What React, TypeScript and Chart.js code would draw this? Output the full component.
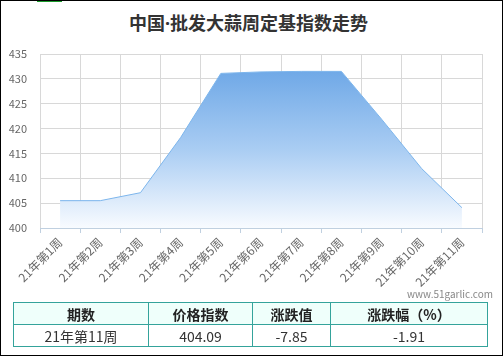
import React, { useEffect, useRef } from "react";
import { Chart, registerables } from "chart.js";

Chart.register(...registerables);

const title = "中国·批发大蒜周定基指数走势";
const weeks = [
  "21年第1周", "21年第2周", "21年第3周", "21年第4周", "21年第5周", "21年第6周",
  "21年第7周", "21年第8周", "21年第9周", "21年第10周", "21年第11周",
];
const indexValues = [405.5, 405.5, 407.1, 418.2, 431.1, 431.4, 431.5, 431.5, 421.9, 411.94, 404.09];
const yMin = 400;
const yMax = 435;
const yStep = 5;
const tableHeaders = ["期数", "价格指数", "涨跌值", "涨跌幅（%）"];
const tableRow = ["21年第11周", "404.09", "-7.85", "-1.91"];
const watermark = "www.51garlic.com";

const FONT = '"Noto Sans CJK SC", "Noto Sans", sans-serif';
const TITLE_FONT = '"Noto Sans", "Noto Sans CJK SC", sans-serif';

export default function App() {
  const ref = useRef<HTMLCanvasElement | null>(null);

  useEffect(() => {
    document.body.style.margin = "0";
    const canvas = ref.current;
    if (!canvas) return;
    const chart = new Chart(canvas, {
      type: "line",
      data: {
        labels: weeks,
        datasets: [
          {
            data: indexValues,
            borderColor: "#7cb5ec",
            borderWidth: 1,
            pointRadius: 0,
            tension: 0,
            fill: "start",
            backgroundColor: (ctx: any) => {
              const c = ctx.chart;
              const area = c.chartArea;
              if (!area) return "rgba(124,181,236,0.5)";
              const g = c.ctx.createLinearGradient(0, area.top + 18, 0, area.bottom);
              g.addColorStop(0, "rgba(112,169,231,1)");
              g.addColorStop(0.5, "rgba(170,205,243,1)");
              g.addColorStop(1, "rgba(248,251,255,1)");
              return g;
            },
          },
        ],
      },
      options: {
        animation: false,
        responsive: false,
        maintainAspectRatio: false,
        layout: { padding: { top: 54, right: 21, bottom: 2, left: 0 } },
        plugins: {
          legend: { display: false },
          tooltip: { enabled: false },
          title: { display: false },
        },
        scales: {
          x: {
            type: "category",
            offset: true,
            grid: {
              offset: true,
              color: "#d8d8d8",
              tickColor: "#c0d0e0",
              tickLength: 5,
              drawTicks: true,
            },
            border: { color: "#c0d0e0", width: 1 },
            ticks: {
              minRotation: 45,
              maxRotation: 45,
              autoSkip: false,
              color: "#666",
              padding: 2,
              font: { family: FONT, size: 12 },
            },
            afterFit: (s: any) => {
              s.height = 60;
            },
          },
          y: {
            min: yMin,
            max: yMax,
            grid: { color: "#d8d8d8", drawTicks: false },
            border: { display: false },
            ticks: {
              stepSize: yStep,
              color: "#666",
              padding: 13,
              font: { family: FONT, size: 11 },
            },
            afterFit: (s: any) => {
              s.width = 40;
            },
          },
        },
      },
    });
    return () => chart.destroy();
  }, []);

  const border = "1px solid #34a39b";
  const widths = [135, 104, 78, 157];

  return (
    <div
      style={{
        position: "relative",
        width: 503,
        height: 356,
        boxSizing: "border-box",
        border: "1px solid #000",
        background: "#fff",
        fontFamily: FONT,
        overflow: "hidden",
      }}
    >
      <div
        style={{
          position: "absolute",
          left: 36,
          top: -1,
          width: 25,
          height: 2,
          background: "#1a9a2a",
        }}
      />
      <div
        style={{
          position: "absolute",
          left: 0,
          top: 9,
          width: 495,
          textAlign: "center",
          fontSize: 18,
          fontWeight: "bold",
          color: "#333",
          lineHeight: "26px",
          fontFamily: TITLE_FONT,
        }}
      >
        {title}
      </div>
      <canvas
        ref={ref}
        width={503}
        height={290}
        style={{ position: "absolute", left: -1, top: -1, width: 503, height: 290 }}
      />
      <div
        style={{
          position: "absolute",
          right: 9,
          top: 286,
          fontSize: 10,
          color: "#888",
          lineHeight: "14px",
        }}
      >
        {watermark}
      </div>
      <table
        style={{
          position: "absolute",
          left: 12,
          top: 301,
          width: 475,
          borderCollapse: "collapse",
          tableLayout: "fixed",
          fontSize: 14,
          color: "#333",
        }}
      >
        <colgroup>
          {widths.map((w, i) => (
            <col key={i} style={{ width: w }} />
          ))}
        </colgroup>
        <tbody>
          <tr style={{ background: "#effffb", height: 22 }}>
            {tableHeaders.map((h, i) => (
              <td
                key={i}
                style={{
                  border,
                  textAlign: "center",
                  fontWeight: "bold",
                  color: "#222",
                  padding: 0,
                  lineHeight: "20px",
                }}
              >
                {h}
              </td>
            ))}
          </tr>
          <tr style={{ height: 22 }}>
            {tableRow.map((v, i) => (
              <td
                key={i}
                style={{ border, textAlign: "center", padding: 0, lineHeight: "20px" }}
              >
                {v}
              </td>
            ))}
          </tr>
        </tbody>
      </table>
    </div>
  );
}
